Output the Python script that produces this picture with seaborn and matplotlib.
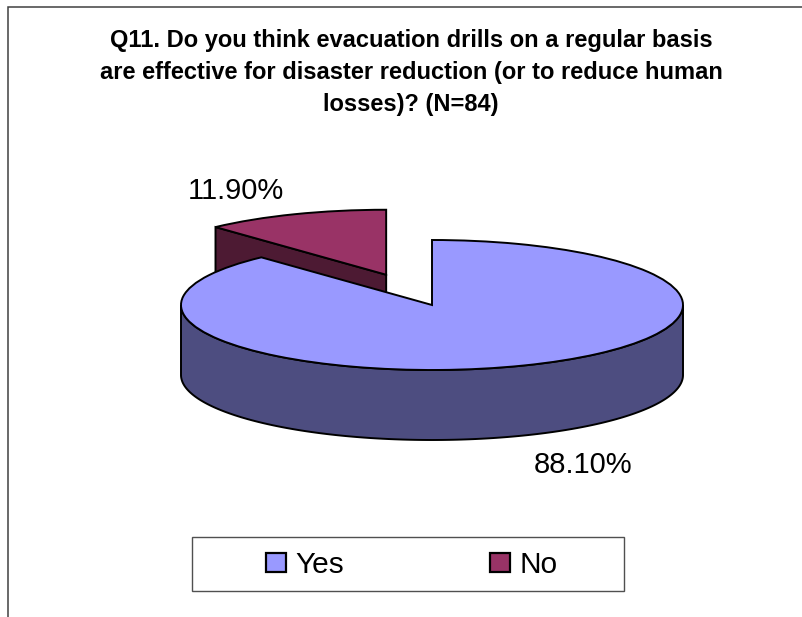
import numpy as np
import matplotlib
matplotlib.use('Agg')
import matplotlib.pyplot as plt
from matplotlib.patches import Rectangle
import seaborn as sns

# Data
answers = ['Yes', 'No']
shares = [88.10, 11.90]
top_colors = ['#9999FF', '#993366']
side_colors = ['#4D4D80', '#4D1A33']
title_lines = ['Q11. Do you think evacuation drills on a regular basis',
               'are effective for disaster reduction (or to reduce human',
               'losses)? (N=84)']

W, H = 803, 617

sns.set_theme(style='white')
plt.rcParams['font.family'] = ['Liberation Sans', 'DejaVu Sans']

fig = plt.figure(figsize=(W / 100, H / 100), dpi=100, facecolor='white')
ax = fig.add_axes([0, 0, 1, 1])


def fx(px):
    return px / W


def fy(py):
    return 1 - py / H


# the pie is flattened: one data unit is rx pixels across and ry pixels down
cx, cy, rx, ry = 432, 305, 251, 65
depth = 70 / ry
edge_w = 1.4

wedges, _ = ax.pie(shares, colors=top_colors, explode=[0, 0.5], startangle=90,
                   counterclock=False, radius=1,
                   wedgeprops={'edgecolor': 'black', 'linewidth': edge_w})
ax.set_aspect('auto')
ax.set_xlim((0 - cx) / rx, (W - cx) / rx)
ax.set_ylim((cy - H) / ry, cy / ry)
ax.axis('off')

# front wall of the big slice
t = np.radians(np.linspace(180, 360, 200))
wall_x = np.cos(t)
wall_y = np.sin(t)
ax.fill(np.r_[wall_x, wall_x[::-1]], np.r_[wall_y, wall_y[::-1] - depth],
        facecolor=side_colors[0], edgecolor='black', linewidth=edge_w, zorder=3)
wedges[0].set_zorder(4)

# cut face of the pulled-out slice, the big slice covers most of it
w = wedges[1]
a = np.radians(w.theta2)
x0, y0 = w.center
face_x = [x0, x0 + np.cos(a), x0 + np.cos(a), x0]
face_y = [y0, y0 + np.sin(a), y0 + np.sin(a) - depth, y0 - depth]
ax.fill(face_x, face_y, facecolor=side_colors[1], edgecolor='black', linewidth=edge_w, zorder=1)
w.set_zorder(2)

# outer frame runs off the right and bottom of the picture
fig.add_artist(Rectangle((fx(8), fy(H + 20)), fx(W + 20), (H + 20 - 6.5) / H, transform=fig.transFigure,
                         fill=False, edgecolor='#404040', linewidth=1.1))
fig.add_artist(Rectangle((fx(192), fy(591)), fx(432), 54 / H, transform=fig.transFigure,
                         fill=False, edgecolor='#505050', linewidth=1.0))

for line, py in zip(title_lines, [41, 73, 104.5]):
    fig.text(fx(411), fy(py), line, ha='center', va='center',
             fontsize=17, fontweight='bold', color='black')

fig.text(fx(236), fy(191), f'{shares[1]:.2f}%', ha='center', va='center', fontsize=21, color='black')
fig.text(fx(583), fy(465), f'{shares[0]:.2f}%', ha='center', va='center', fontsize=21, color='black')

legend = ax.legend(wedges, answers, ncol=2, loc='center', bbox_to_anchor=(fx(412), fy(565)),
                   bbox_transform=fig.transFigure, frameon=False, fontsize=21.5,
                   handlelength=0.64, handleheight=0.64, handletextpad=0.33, columnspacing=4.9,
                   labelcolor='black')
for handle in legend.legend_handles:
    handle.set_linewidth(1.6)

fig.savefig('out.png', dpi=100)
